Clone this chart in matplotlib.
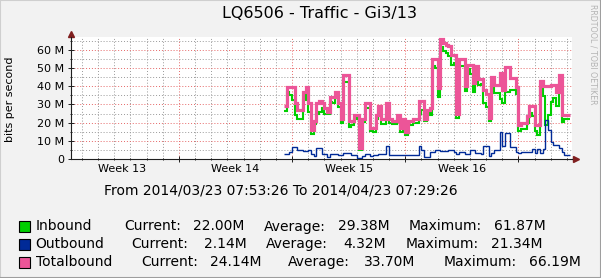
import numpy as np
import pandas as pd
import matplotlib
matplotlib.use('Agg')
import matplotlib.pyplot as plt
import matplotlib.dates as mdates
import matplotlib.transforms as mtransforms
from matplotlib.patches import Rectangle
from matplotlib.lines import Line2D

# time window of the graph and of the stored samples (4 hour steps)
graph_start = pd.Timestamp('2014-03-23 07:53:26')
graph_end = pd.Timestamp('2014-04-23 07:29:26')
sample_start = pd.Timestamp('2014-04-05 12:00:00')
sample_step = '4h'

# Mbit/s
inbound = [26.5, 37, 35.5, 32.7, 24.2, 22, 22, 32.5, 35, 26,
           13.5, 19.3, 25, 26, 28, 25, 24.7, 31.3, 31, 34,
           28.8, 19.8, 42.5, 42.5, 17.5, 18.8, 21.8, 23.2, 5.2, 20.3,
           28.3, 28.3, 15.3, 14.8, 21.8, 26, 19, 19, 23.8, 19.8,
           19, 19, 22, 15, 20, 13, 18.8, 18.8, 19.8, 19.8,
           25, 27, 20.7, 25.7, 24, 51, 50, 34, 61.5, 59.5,
           58.5, 56.8, 51.8, 53, 22.3, 51, 51, 37.3, 49.3, 47,
           37, 47.5, 40.5, 41.3, 30.8, 28.8, 21, 41.9, 36.1, 36.1,
           32.8, 30.8, 36.7, 36.7, 37.9, 37.9, 35.7, 15.5, 16.3, 16.3,
           19.8, 25.3, 23.5, 15.5, 13.1, 39.9, 34.5, 18.7, 24, 31.4,
           33.3, 29.3, 40.6, 20.3, 21.8, 22.0]
outbound = [2.5, 2.5, 4, 6.8, 6.8, 5, 5, 4.5, 4.5, 5,
            2.5, 1.7, 6, 6, 3, 3, 1.3, 2.7, 3, 3,
            2.2, 2.2, 3.5, 3.5, 3.5, 2.2, 2.2, 0.8, 0.8, 1.7,
            2.7, 2.7, 1.7, 2.2, 2.2, 3, 3, 3, 7.2, 2.2,
            2, 2, 2, 2, 2, 2, 2.2, 2.2, 2.2, 2.2,
            7, 5, 1.3, 1.3, 4, 4, 5, 5, 4.5, 4.5,
            4.5, 5.2, 5.2, 4, 2.7, 4, 4, 2.7, 2.7, 5,
            5, 3.5, 3.5, 2.7, 7.2, 7.2, 1.5, 3.1, 4.9, 4.9,
            14.7, 7.2, 14.1, 14.1, 6.8, 6.8, 4.0, 3.1, 3.7, 3.7,
            3.7, 3.7, 5.5, 3.1, 5.5, 3.1, 5.5, 21.3, 16, 9.6,
            7.7, 7.7, 5.9, 3.7, 2.2, 2.14]
totalbound = [29.2, 39.5, 39.5, 39.5, 31, 27, 27, 37, 39.5, 31,
              16, 21, 31, 32, 31, 28, 26, 34, 34, 37,
              31, 22, 46, 46, 21, 21, 24, 24, 6, 22,
              31, 31, 17, 17, 24, 29, 22, 22, 31, 22,
              21, 21, 24, 17, 22, 15, 21, 21, 22, 22,
              32, 32, 22, 27, 28, 55, 55, 39, 66.2, 64,
              63, 62, 57, 57, 25, 55, 55, 40, 52, 52,
              42, 51, 44, 44, 38, 36, 22.5, 45, 41, 41,
              47.5, 38, 50.8, 50.8, 44.7, 44.7, 39.7, 18.6, 20, 20,
              23.5, 29, 29, 18.6, 18.6, 43, 40, 40, 40, 41,
              41, 37, 46.5, 24, 24, 24.14]

names = ['Inbound', 'Outbound', 'Totalbound']
line_colors = ['#00CF00', '#002A97', '#EC5598']
current_vals = [22.00, 2.14, 24.14]
average_vals = [29.38, 4.32, 33.70]
maximum_vals = [61.87, 21.34, 66.19]
y_ticks = [0, 10, 20, 30, 40, 50, 60]

W, H = 601, 278
fig = plt.figure(figsize=(W / 100, H / 100), dpi=100)
fig.patch.set_facecolor('#F2F2F2')


def fx(px):
    return px / W


def fy(py):
    return 1 - py / H


ax = fig.add_axes([fx(71), fy(159), 501 / W, 122 / H])
ax.set_facecolor('white')

times = pd.date_range(sample_start, periods=len(totalbound) + 1, freq=sample_step)
widths = [1.5, 1.0, 2.3]
for vals, col, lw in zip([inbound, outbound, totalbound], line_colors, widths):
    ax.plot(times, np.append(vals, vals[-1]), drawstyle='steps-post', color=col,
            lw=lw, solid_joinstyle='miter', solid_capstyle='butt', zorder=3)

ax.set_xlim(graph_start, graph_end)
ax.set_ylim(0, 67.15)

# grid
ax.xaxis.set_major_locator(mdates.WeekdayLocator(byweekday=mdates.SU))
ax.xaxis.set_minor_locator(mdates.DayLocator())
ax.set_xticklabels([])
ax.set_yticks(y_ticks)
ax.set_yticklabels(['0' if v == 0 else '%d M' % v for v in y_ticks])
ax.set_yticks(np.arange(5, 70, 10), minor=True)
ax.grid(which='major', color=(0.9, 0.4, 0.4, 0.55), ls=(0, (1, 2)), lw=0.7)
ax.grid(which='minor', color=(0.6, 0.6, 0.6, 0.5), ls=(0, (1, 2)), lw=0.7)
ax.set_axisbelow(True)
ax.tick_params(which='major', direction='inout', length=4, width=0.7, color='#1F1F1F',
               labelsize=8, pad=3)
ax.tick_params(which='minor', direction='inout', length=2, width=0.7, color='#1F1F1F')
ax.xaxis.set_tick_params(which='both', labelbottom=False)

for s in ['top', 'right']:
    ax.spines[s].set_visible(False)
for s in ['left', 'bottom']:
    ax.spines[s].set_color('#1F1F1F')
    ax.spines[s].set_linewidth(0.8)

# arrows at the axis ends
ax.plot([1, 1.004], [0, 0], transform=ax.transAxes, color='#1F1F1F', lw=0.8, clip_on=False)
ax.plot(1.0074, 0, marker='>', ms=4, color='#801F1F', transform=ax.transAxes, clip_on=False)
ax.plot(0, 1.0205, marker='^', ms=4, color='#801F1F', transform=ax.transAxes, clip_on=False)

# week labels centred on each week
trans = mtransforms.blended_transform_factory(ax.transData, fig.transFigure)
for sunday in pd.date_range('2014-03-23', graph_end, freq='W-SUN'):
    mid = sunday + pd.Timedelta(hours=84)
    if mid < graph_end:
        ax.text(mid, fy(169), 'Week %d' % mid.isocalendar()[1], transform=trans,
                ha='center', va='center', fontsize=8)

fig.text(fx(10), fy(99.5), 'bits per second', rotation=90, ha='center', va='center', fontsize=8)
fig.text(fx(319), fy(14), 'LQ6506 - Traffic - Gi3/13', ha='center', va='center', fontsize=11.5)
fig.text(fx(593), fy(54), 'RRDTOOL / TOBI OETIKER', rotation=270, ha='center', va='center',
         fontsize=5.7, color='#B4B4B4')
fig.text(fx(281), fy(190), 'From %s To %s' % (graph_start.strftime('%Y/%m/%d %H:%M:%S'),
                                              graph_end.strftime('%Y/%m/%d %H:%M:%S')),
         ha='center', va='center', fontsize=10)

# legend rows
row_y = [226.5, 244.3, 262]
col_x = [[124, 193, 264, 338, 409, 494],
         [131, 204, 266, 343, 406, 491],
         [141, 210, 288, 364, 444, 529]]
for i in range(3):
    yy = fy(row_y[i])
    fig.add_artist(Rectangle((fx(18.5), yy - 5.5 / H), 11 / W, 11 / H, transform=fig.transFigure,
                             fc=line_colors[i], ec='black', lw=0.8))
    fig.text(fx(35.5), yy, names[i], va='center', fontsize=10)
    cx = col_x[i]
    parts = ['Current:', '%.2fM' % current_vals[i], 'Average:', '%.2fM' % average_vals[i],
             'Maximum:', '%.2fM' % maximum_vals[i]]
    for x0, t in zip(cx, parts):
        fig.text(fx(x0), yy, t, va='center', fontsize=10)

# shaded frame
fig.add_artist(Line2D([0, 0, 1], [0, 1, 1], transform=fig.transFigure, color='#CFCFCF', lw=1.5))
fig.add_artist(Line2D([0, 1, 1], [0, 0, 1], transform=fig.transFigure, color='#9E9E9E', lw=1.5))

fig.savefig('out.png', dpi=100, facecolor=fig.get_facecolor())
